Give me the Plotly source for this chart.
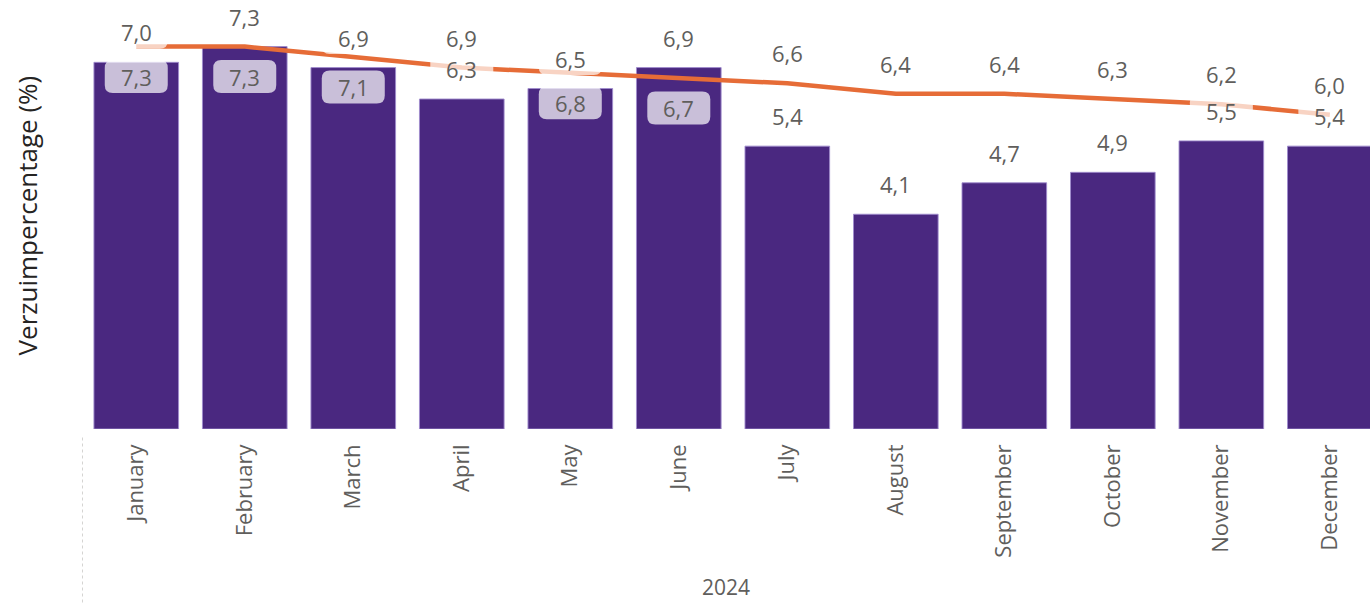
import plotly.graph_objects as go

months = ["January", "February", "March", "April", "May", "June",
          "July", "August", "September", "October", "November", "December"]
verzuim = [7.0, 7.3, 6.9, 6.3, 6.5, 6.9, 5.4, 4.1, 4.7, 4.9, 5.5, 5.4]
trend = [7.3, 7.3, 7.1, 6.9, 6.8, 6.7, 6.6, 6.4, 6.4, 6.3, 6.2, 6.0]
year_label = "2024"

# where the line labels sit (Power BI pushed some below the line)
trend_label_side = ["below", "below", "below", "above", "below", "below",
                    "above", "above", "above", "above", "above", "above"]

BAR = "#4A2880"
LINE = "#E66C37"
LABEL = "#605E5C"
FONT = "Segoe UI, Open Sans, sans-serif"


def rounded_box(cy, w=63, h=33, r=8):
    # path in pixels, relative to the anchor point
    x0, x1 = -w / 2, w / 2
    y0, y1 = cy - h / 2, cy + h / 2
    return (f"M {x0 + r},{y0} L {x1 - r},{y0} Q {x1},{y0} {x1},{y0 + r} "
            f"L {x1},{y1 - r} Q {x1},{y1} {x1 - r},{y1} L {x0 + r},{y1} "
            f"Q {x0},{y1} {x0},{y1 - r} L {x0},{y0 + r} Q {x0},{y0} {x0 + r},{y0} Z")


fig = go.Figure()
fig.add_bar(x=months, y=verzuim, marker=dict(color=BAR, line=dict(color="rgba(160,140,205,0.9)", width=1)),
            hoverinfo="skip")
fig.add_scatter(x=months, y=trend, mode="lines", line=dict(color=LINE, width=4.5), hoverinfo="skip")

labels = []
for m, v in zip(months, verzuim):
    labels.append((m, v, 30))
for m, v, side in zip(months, trend, trend_label_side):
    labels.append((m, v, 30 if side == "above" else -30))

for m, v, shift in labels:
    fig.add_shape(type="path", xref="x", yref="y", xsizemode="pixel", ysizemode="pixel",
                  xanchor=m, yanchor=v, path=rounded_box(shift), layer="above",
                  fillcolor="rgba(255,255,255,0.7)", line=dict(width=0))
    fig.add_annotation(x=m, y=v, yshift=shift, text=f"{v:.1f}".replace(".", ","),
                       showarrow=False, yanchor="middle",
                       font=dict(family=FONT, size=22, color=LABEL))

# dotted separator left of the category labels
fig.add_shape(type="line", xref="x", yref="paper", x0=-0.5, x1=-0.5, y0=-0.02, y1=-0.41,
              line=dict(color="#C8C6C4", width=1.5, dash="dot"))

fig.add_annotation(xref="paper", yref="paper", x=0.5, y=-0.368, text=year_label,
                   xanchor="center", yanchor="middle", showarrow=False,
                   font=dict(family=FONT, size=21, color=LABEL))
fig.add_annotation(xref="paper", yref="paper", x=-0.043, y=0.497, text="Verzuimpercentage (%)",
                   xanchor="center", yanchor="middle", textangle=-90, showarrow=False,
                   font=dict(family=FONT, size=26, color="#252423"))

fig.update_layout(
    width=1370, height=603,
    margin=dict(l=82, r=0, t=0, b=174),
    paper_bgcolor="white", plot_bgcolor="white",
    showlegend=False, bargap=0.22,
)
fig.update_xaxes(type="category", range=[-0.5, 11.37], tickangle=-90, showgrid=False,
                 showline=False, zeroline=False, ticks="", ticklabelstandoff=10,
                 tickfont=dict(family=FONT, size=22, color=LABEL))
fig.update_yaxes(range=[0, 8.19], showticklabels=False, showgrid=False, zeroline=False, showline=False)

fig.write_html("out.html", config={"displayModeBar": False},
               post_script="document.body.style.margin='0';")
